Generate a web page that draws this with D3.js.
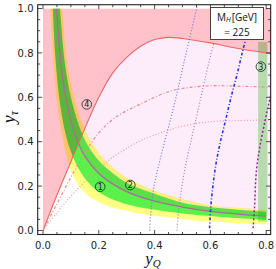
<!DOCTYPE html>
<html><head><meta charset="utf-8">
<script src="https://cdn.jsdelivr.net/npm/d3@7"></script>
<style>body{margin:0;background:#fff}svg{display:block}</style>
</head><body>
<svg id="c" width="276" height="269"></svg>
<script>
// ---------- data ----------
const xTickValues = [0, 0.2, 0.4, 0.6, 0.8];
const yTickValues = [0, 0.2, 0.4, 0.6, 0.8, 1.0];
const massLabel = "225";

// solid red boundary (pink region to its left / above)
const redX = [0, 0.05, 0.1, 0.15, 0.2, 0.25, 0.3, 0.35, 0.4, 0.45, 0.5, 0.6, 0.7, 0.8, 0.82];
const redY = [0, 0.16, 0.31, 0.46, 0.6, 0.71, 0.78, 0.83, 0.86, 0.87, 0.865, 0.845, 0.82, 0.80, 0.795];

// red dash-dot and dotted curves from the origin
const redDashX = [0, 0.05, 0.1, 0.15, 0.2, 0.25, 0.3, 0.35, 0.4, 0.45, 0.5, 0.6, 0.7, 0.82];
const redDashY = [0, 0.12, 0.24, 0.35, 0.44, 0.5, 0.54, 0.57, 0.6, 0.625, 0.64, 0.652, 0.65, 0.645];
const redDotX = [0, 0.05, 0.1, 0.15, 0.2, 0.25, 0.3, 0.35, 0.4, 0.5, 0.6, 0.7, 0.82];
const redDotY = [0, 0.08, 0.155, 0.22, 0.28, 0.33, 0.37, 0.405, 0.43, 0.47, 0.49, 0.495, 0.498];

// hyperbola-like band: central line, green (1 sigma) and yellow (2 sigma) edges
const centerX = [0.046, 0.05, 0.062, 0.08, 0.1, 0.12, 0.15, 0.2, 0.25, 0.3, 0.4, 0.5, 0.6, 0.7, 0.8];
const centerY = [1.05, 0.97, 0.78, 0.61, 0.495, 0.415, 0.335, 0.257, 0.21, 0.175, 0.132, 0.105, 0.086, 0.074, 0.065];
const greenHiX = [0.058, 0.061, 0.077, 0.1, 0.13, 0.16, 0.2, 0.25, 0.3, 0.4, 0.5, 0.6, 0.7, 0.8];
const greenHiY = [1.05, 1.0, 0.768, 0.6, 0.47, 0.385, 0.315, 0.258, 0.215, 0.165, 0.125, 0.105, 0.094, 0.085];
const greenLoX = [0.033, 0.035, 0.045, 0.06, 0.08, 0.1, 0.134, 0.194, 0.29, 0.386, 0.5, 0.6, 0.7, 0.8];
const greenLoY = [1.05, 1.0, 0.768, 0.58, 0.44, 0.355, 0.265, 0.178, 0.122, 0.097, 0.077, 0.065, 0.055, 0.047];
const yellowHiX = [0.066, 0.069, 0.085, 0.1, 0.13, 0.16, 0.2, 0.25, 0.3, 0.4, 0.5, 0.6, 0.7, 0.8];
const yellowHiY = [1.05, 1.0, 0.768, 0.66, 0.52, 0.43, 0.35, 0.285, 0.238, 0.18, 0.142, 0.114, 0.102, 0.092];
const yellowLoX = [0.022, 0.026, 0.037, 0.05, 0.07, 0.09, 0.122, 0.16, 0.194, 0.25, 0.29, 0.336, 0.4, 0.5, 0.6, 0.7, 0.8];
const yellowLoY = [1.05, 1.0, 0.768, 0.58, 0.42, 0.31, 0.213, 0.16, 0.132, 0.104, 0.092, 0.079, 0.066, 0.052, 0.04, 0.033, 0.027];

// vertical green band (region 3)
const greenBandX = [0.771, 0.804];
const greenBandY = [0.04, 0.85];

// near-vertical contours (given as y -> x)
const vLine1Y = [0, 0.1, 0.2, 0.3, 0.4, 0.5, 0.6, 0.7, 0.8, 0.9, 1.03];
const vLine1X = [0.382, 0.388, 0.398, 0.416, 0.436, 0.457, 0.477, 0.495, 0.513, 0.532, 0.556];
const vLine2Y = [0, 0.1, 0.2, 0.3, 0.4, 0.5, 0.6, 0.7, 0.8, 0.84];
const vLine2X = [0.48, 0.487, 0.498, 0.512, 0.53, 0.548, 0.566, 0.584, 0.603, 0.612];
const vLine3Y = [0.01, 0.1, 0.2, 0.3, 0.4, 0.5, 0.6, 0.7, 0.8, 0.85];
const vLine3X = [0.597, 0.601, 0.609, 0.62, 0.636, 0.655, 0.674, 0.695, 0.714, 0.724];
const vLine4Y = [0.01, 0.1, 0.27, 0.39, 0.5, 0.57, 0.64];
const vLine4X = [0.753, 0.758, 0.765, 0.779, 0.797, 0.809, 0.822];

// circled region labels
const regionNames = ["1", "2", "3", "4"];
const regionX = [0.205, 0.313, 0.781, 0.157];
const regionY = [0.197, 0.205, 0.738, 0.568];

// ---------- drawing ----------
const svg = d3.select("#c");
const x = d3.scaleLinear().domain([0, 0.8]).range([43, 266.2]);
const y = d3.scaleLinear().domain([0, 1]).range([230.5, 8.5]);
const fx = [-0.019, 0.816], fy = [-0.018, 1.017];
const L = x(fx[0]), R = x(fx[1]), T = y(fy[1]), B = y(fy[0]);

const zip = (a, b) => a.map((v, i) => [v, b[i]]);
const line = d3.line().x(d => x(d[0])).y(d => y(d[1])).curve(d3.curveCatmullRom.alpha(0.5));
const defs = svg.append("defs");
defs.append("clipPath").attr("id", "frameClip").append("rect")
  .attr("x", L).attr("y", T).attr("width", R - L).attr("height", B - T);
defs.append("clipPath").attr("id", "regClip").append("rect")
  .attr("x", x(0)).attr("y", y(1)).attr("width", R - x(0)).attr("height", y(0) - y(1));

const redPts = zip(redX, redY);
const underRed = line(redPts) + `L${x(0.82)},${y(0)}Z`;
defs.append("clipPath").attr("id", "underRed").append("path").attr("d", underRed);

const g = svg.append("g").attr("clip-path", "url(#frameClip)");
const reg = g.append("g").attr("clip-path", "url(#regClip)");

// pink everywhere in the region, lavender under the red curve, white below the band
reg.append("rect").attr("x", x(0)).attr("y", y(1)).attr("width", R - x(0)).attr("height", y(0) - y(1))
  .attr("fill", "#ffc2ca");
const under = reg.append("g").attr("clip-path", "url(#underRed)");
under.append("rect").attr("x", x(0)).attr("y", y(1)).attr("width", R - x(0)).attr("height", y(0) - y(1))
  .attr("fill", "#fdedfa");
under.append("path").attr("fill", "#ffffff")
  .attr("d", line(zip(centerX, centerY)) + `L${x(0.85)},${y(0.065)}L${x(0.85)},${y(-0.1)}L${x(0)},${y(-0.1)}L${x(0)},${y(1.1)}Z`);

function band(hx, hy, lx, ly) {
  const hi = line(zip(hx, hy));
  const lo = line(zip(lx, ly).reverse());
  return hi + "L" + lo.substring(1) + "Z";
}
reg.append("path").attr("d", band(yellowHiX, yellowHiY, yellowLoX, yellowLoY))
  .attr("fill", "#ffff84").style("mix-blend-mode", "multiply");
reg.append("path").attr("d", band(greenHiX, greenHiY, greenLoX, greenLoY))
  .attr("fill", "#5cf08e").style("mix-blend-mode", "multiply");
reg.append("rect").attr("x", x(greenBandX[0])).attr("y", y(greenBandY[1]))
  .attr("width", x(greenBandX[1]) - x(greenBandX[0])).attr("height", y(greenBandY[0]) - y(greenBandY[1]))
  .attr("fill", "#b8ecb0").style("mix-blend-mode", "multiply");

// lines
g.append("path").attr("d", line(redPts)).attr("fill", "none").attr("stroke", "#f26464").attr("stroke-width", 1.1);
g.append("path").attr("d", line(zip(redDashX, redDashY))).attr("fill", "none")
  .attr("stroke", "#f08a8a").attr("stroke-width", 1.2).attr("stroke-dasharray", "3,2,1,2");
g.append("path").attr("d", line(zip(redDotX, redDotY))).attr("fill", "none")
  .attr("stroke", "#f29a9a").attr("stroke-width", 1.2).attr("stroke-dasharray", "1,2");
reg.append("path").attr("d", line(zip(centerX, centerY))).attr("fill", "none")
  .attr("stroke", "#b0689f").attr("stroke-width", 1.3);

g.append("path").attr("d", line(zip(vLine1X, vLine1Y))).attr("fill", "none")
  .attr("stroke", "#6f74ee").attr("stroke-width", 1.2).attr("stroke-dasharray", "1,2");
g.append("path").attr("d", line(zip(vLine2X, vLine2Y))).attr("fill", "none")
  .attr("stroke", "#b56fc8").attr("stroke-width", 1.2).attr("stroke-dasharray", "1,2");
g.append("path").attr("d", line(zip(vLine3X, vLine3Y))).attr("fill", "none")
  .attr("stroke", "#2a34e6").attr("stroke-width", 1.6).attr("stroke-dasharray", "3,2,1,2");
g.append("path").attr("d", line(zip(vLine4X, vLine4Y))).attr("fill", "none")
  .attr("stroke", "#8a2f98").attr("stroke-width", 1.5).attr("stroke-dasharray", "2,2");

// circled labels
regionNames.forEach((n, i) => {
  const cx = x(regionX[i]), cy = y(regionY[i]);
  g.append("circle").attr("cx", cx).attr("cy", cy).attr("r", 4.8)
    .attr("fill", "none").attr("stroke", "#333").attr("stroke-width", 0.9);
  g.append("text").attr("x", cx).attr("y", cy + 2.9).attr("text-anchor", "middle")
    .attr("font-family", "DejaVu Sans, sans-serif").attr("font-size", 8).attr("fill", "#222").text(n);
});

// frame and ticks
svg.append("rect").attr("x", L).attr("y", T).attr("width", R - L).attr("height", B - T)
  .attr("fill", "none").attr("stroke", "#222").attr("stroke-width", 1.1);
const minorX = d3.range(0, 0.8001, 0.05), minorY = d3.range(0, 1.0001, 0.05);
const isMajor = v => Math.abs(v * 5 - Math.round(v * 5)) < 1e-6;
const tk = svg.append("g").attr("stroke", "#222").attr("stroke-width", 0.8);
minorX.forEach(v => {
  const len = isMajor(v) ? 4.5 : 2.5;
  tk.append("line").attr("x1", x(v)).attr("x2", x(v)).attr("y1", B).attr("y2", B - len);
  tk.append("line").attr("x1", x(v)).attr("x2", x(v)).attr("y1", T).attr("y2", T + len);
});
minorY.forEach(v => {
  const len = isMajor(v) ? 4.5 : 2.5;
  tk.append("line").attr("y1", y(v)).attr("y2", y(v)).attr("x1", L).attr("x2", L + len);
  tk.append("line").attr("y1", y(v)).attr("y2", y(v)).attr("x1", R).attr("x2", R - len);
});
const lab = svg.append("g").attr("font-family", "DejaVu Sans, sans-serif").attr("font-size", 10).attr("fill", "#222");
xTickValues.forEach(v => lab.append("text").attr("x", x(v)).attr("y", 248.5).attr("text-anchor", "middle").text(v.toFixed(1)));
yTickValues.forEach(v => lab.append("text").attr("x", 33.5).attr("y", y(v) + 3.6).attr("text-anchor", "end").text(v.toFixed(1)));

// axis titles
const xt = svg.append("text").attr("x", 153).attr("y", 264).attr("text-anchor", "middle")
  .attr("font-family", "Liberation Serif, serif").attr("font-style", "italic").attr("font-size", 17).attr("fill", "#111");
xt.append("tspan").text("y");
xt.append("tspan").attr("font-size", 11).attr("dy", 3).text("Q");
const yt = svg.append("text").attr("transform", "translate(15,117) rotate(-90)").attr("text-anchor", "middle")
  .attr("font-family", "Liberation Serif, serif").attr("font-style", "italic").attr("font-size", 18).attr("fill", "#111");
yt.append("tspan").text("y");
yt.append("tspan").attr("font-size", 12).attr("dy", 3).text("τ");

// mass box
svg.append("rect").attr("x", 210.5).attr("y", 7.5).attr("width", 53).attr("height", 32)
  .attr("fill", "#fff").attr("stroke", "#444").attr("stroke-width", 1);
const mt = svg.append("text").attr("x", 237).attr("y", 20.5).attr("text-anchor", "middle")
  .attr("font-family", "Open Sans, sans-serif").attr("font-size", 10).attr("fill", "#111");
mt.append("tspan").text("M");
mt.append("tspan").attr("font-size", 7).attr("font-style", "italic").attr("dy", 1.6).text("H");
mt.append("tspan").attr("dy", -1.6).attr("dx", 1).text("[GeV]");
svg.append("text").attr("x", 237).attr("y", 35.8).attr("text-anchor", "middle")
  .attr("font-family", "Open Sans, sans-serif").attr("font-size", 10).attr("fill", "#111").text("= " + massLabel);
</script>
</body></html>
